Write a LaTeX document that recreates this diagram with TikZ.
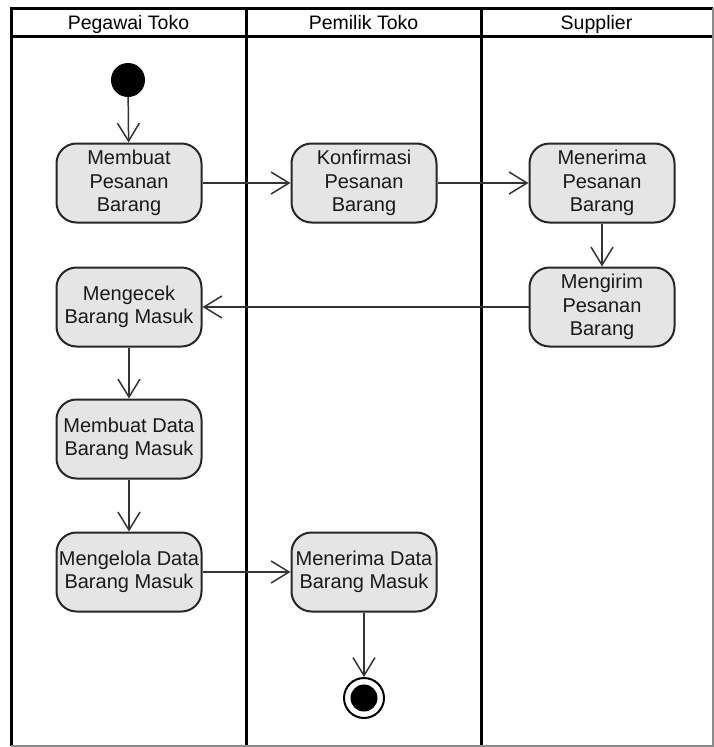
\documentclass[tikz,border=0pt]{standalone}
\usepackage{fontspec}
\setmainfont{Liberation Sans}
\usetikzlibrary{arrows.meta}
\newcommand*{\lanehead}[3]{%
\node[font=\fontsize{19.5}{22}\selectfont, anchor=base] (#3) at (#1, 29) {#2};}

\tikzset{
  act/.style={draw=black!85, line width=2pt, fill=black!10, rounded corners=20pt,
    minimum width=145pt, minimum height=79pt, align=center, inner sep=1pt,
    text=black!90, font=\fontsize{20}{23.5}\selectfont},
  flow/.style={draw=black!80, line width=1.5pt,
    -{Straight Barb[length=18pt, width=22pt, line width=1.5pt]}},
}

\begin{document}
\begin{tikzpicture}[x=1pt, y=-1pt]

\def\xl{11}
\def\xa{246}
\def\xb{481}
\def\xr{712.5}
\def\yt{8}
\def\yh{36}
\def\yb{745.5}

\useasboundingbox (0,0) rectangle (714,747);

% swimlanes
\draw[line width=3pt] (\xl,\yb) -- (\xl,\yt) -- (\xr,\yt);
\draw[line width=3pt] (\xl,\yh) -- (\xr,\yh);
\draw[line width=3pt] (\xa,\yt) -- (\xa,\yb);
\draw[line width=3pt] (\xb,\yt) -- (\xb,\yb);
\draw[line width=2pt, black!45] (\xl,\yb) -- (\xr,\yb) -- (\xr,\yt);

\lanehead{128.5}{Pegawai Toko}{hpegawai}
\lanehead{363.5}{Pemilik Toko}{hpemilik}
\lanehead{596.5}{Supplier}{hsupplier}

% activities
\node[circle, fill=black, minimum size=34pt, inner sep=0pt] (start) at (128,80) {};
\node[act] (mpb) at (129,183) {Membuat\\Pesanan\\Barang};
\node[act] (kpb) at (364,183) {Konfirmasi\\Pesanan\\Barang};
\node[act] (tpb) at (602,183) {Menerima\\Pesanan\\Barang};
\node[act] (gpb) at (602,307) {Mengirim\\Pesanan\\Barang};
\node[act] (cbm) at (129,307) {Mengecek\\Barang Masuk};
\node[act] (dbm) at (129,439) {Membuat Data\\Barang Masuk};
\node[act] (lbm) at (129,572) {Mengelola Data\\Barang Masuk};
\node[act] (tbm) at (364,572) {Menerima Data\\Barang Masuk};
\node[circle, draw=black, line width=2pt, minimum size=40pt, inner sep=0pt] (stop) at (364,698) {};
\node[circle, fill=black, minimum size=27pt, inner sep=0pt] at (stop) {};

% flows
\draw[flow] (start) -- (mpb);
\draw[flow] (mpb) -- (kpb);
\draw[flow] (kpb) -- (tpb);
\draw[flow] (tpb) -- (gpb);
\draw[flow] (gpb) -- (cbm);
\draw[flow] (cbm) -- (dbm);
\draw[flow] (dbm) -- (lbm);
\draw[flow] (lbm) -- (tbm);
\draw[flow] (tbm) -- (stop);

\end{tikzpicture}
\end{document}
